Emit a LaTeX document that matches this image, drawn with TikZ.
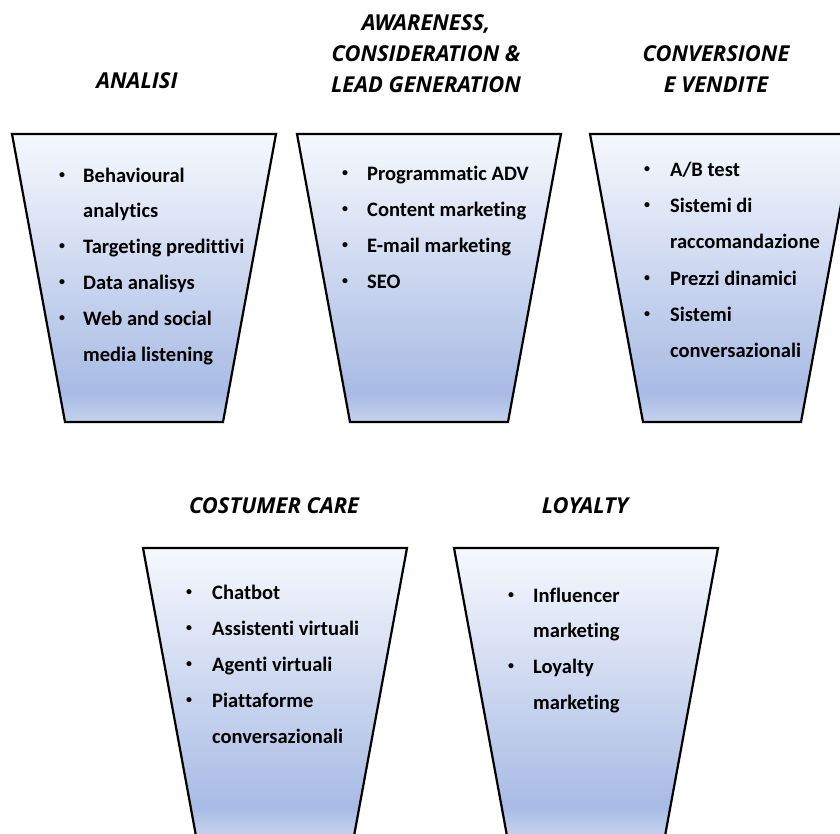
\documentclass[tikz,border=0pt]{standalone}
\usepackage{fontspec}
\setmainfont{Carlito}[Ligatures = NoCommon]
\newfontfamily\titlefont{Open Sans}

\definecolor{funTop}{HTML}{F6F8FD}
\definecolor{funLow}{HTML}{A8BBE4}
\definecolor{funBot}{HTML}{C6D3EE}
\pgfdeclareverticalshading{funnelShade}{100bp}{color(0bp)=(funBot); color(25bp)=(funBot); color(30bp)=(funLow); color(75bp)=(funTop); color(100bp)=(funTop)}

\begin{document}
\begin{tikzpicture}[x = 1bp, y = -1bp]
	\tikzstyle{funnelStyle} = [draw = black, line width = 2.2bp, line join = miter, shade, shading = funnelShade]
	\tikzstyle{titleStyle} = [anchor = base, inner sep = 0pt, align = center, font = \titlefont\bfseries\itshape\fontsize{22}{31}\selectfont]
	\tikzstyle{itemStyle} = [anchor = base west, inner sep = 0pt, font = \bfseries\fontsize{20.6}{24}\selectfont]
	\tikzstyle{dotStyle} = [anchor = center, inner sep = 0pt, font = \bfseries\fontsize{12}{14}\selectfont]
	\useasboundingbox (0,0) rectangle (840,834);
	\clip (0,0) rectangle (840,834);
	% funnels
	\path[funnelStyle] (12,134) -- (276,134) -- (223,422) -- (65,422) -- cycle;
	\path[funnelStyle] (297,134) -- (561,134) -- (508,422) -- (350,422) -- cycle;
	\path[funnelStyle] (590,134) -- (854,134) -- (801,422) -- (643,422) -- cycle;
	\path[funnelStyle] (143,548) -- (407,548) -- (354,836) -- (196,836) -- cycle;
	\path[funnelStyle] (454,548) -- (718,548) -- (665,836) -- (507,836) -- cycle;
	% titles
	\node[titleStyle] (h1) at (137,88) {ANALISI};
	\node[titleStyle] (h2) at (426,92) {AWARENESS,\\CONSIDERATION \&\\LEAD GENERATION};
	\node[titleStyle] (h3) at (716,92) {CONVERSIONE\\E VENDITE};
	\node[titleStyle] (h4) at (274,513) {COSTUMER CARE};
	\node[titleStyle] (h5) at (585,513) {LOYALTY};
	% analisi
	\node[dotStyle] (d11) at (62,176) {\textbullet};
	\node[itemStyle] (a11) at (83,182) {Behavioural};
	\node[itemStyle] (a12) at (83,217) {analytics};
	\node[dotStyle] (d13) at (62,247) {\textbullet};
	\node[itemStyle] (a13) at (83,253) {Targeting predittivi};
	\node[dotStyle] (d14) at (62,283) {\textbullet};
	\node[itemStyle] (a14) at (83,289) {Data analisys};
	\node[dotStyle] (d15) at (62,319) {\textbullet};
	\node[itemStyle] (a15) at (83,325) {Web and social};
	\node[itemStyle] (a16) at (83,361) {media listening};
	% awareness
	\node[dotStyle] (d21) at (345,174) {\textbullet};
	\node[itemStyle] (a21) at (367,180) {Programmatic ADV};
	\node[dotStyle] (d22) at (345,210) {\textbullet};
	\node[itemStyle] (a22) at (367,216) {Content marketing};
	\node[dotStyle] (d23) at (345,246) {\textbullet};
	\node[itemStyle] (a23) at (367,252) {E-mail marketing};
	\node[dotStyle] (d24) at (345,282) {\textbullet};
	\node[itemStyle] (a24) at (367,288) {SEO};
	% conversione
	\node[dotStyle] (d31) at (647,170) {\textbullet};
	\node[itemStyle] (a31) at (670,176) {A/B test};
	\node[dotStyle] (d32) at (647,206) {\textbullet};
	\node[itemStyle] (a32) at (670,212) {Sistemi di};
	\node[itemStyle] (a33) at (670,248) {raccomandazione};
	\node[dotStyle] (d34) at (647,279) {\textbullet};
	\node[itemStyle] (a34) at (670,285) {Prezzi dinamici};
	\node[dotStyle] (d35) at (647,315) {\textbullet};
	\node[itemStyle] (a35) at (670,321) {Sistemi};
	\node[itemStyle] (a36) at (670,357) {conversazionali};
	% costumer care
	\node[dotStyle] (d41) at (189,593) {\textbullet};
	\node[itemStyle] (a41) at (212,599) {Chatbot};
	\node[dotStyle] (d42) at (189,629) {\textbullet};
	\node[itemStyle] (a42) at (212,635) {Assistenti virtuali};
	\node[dotStyle] (d43) at (189,665) {\textbullet};
	\node[itemStyle] (a43) at (212,671) {Agenti virtuali};
	\node[dotStyle] (d44) at (189,701) {\textbullet};
	\node[itemStyle] (a44) at (212,707) {Piattaforme};
	\node[itemStyle] (a45) at (212,743) {conversazionali};
	% loyalty
	\node[dotStyle] (d51) at (511,596) {\textbullet};
	\node[itemStyle] (a51) at (533,602) {Influencer};
	\node[itemStyle] (a52) at (533,637) {marketing};
	\node[dotStyle] (d53) at (511,667) {\textbullet};
	\node[itemStyle] (a53) at (533,673) {Loyalty};
	\node[itemStyle] (a54) at (533,709) {marketing};
\end{tikzpicture}
\end{document}
